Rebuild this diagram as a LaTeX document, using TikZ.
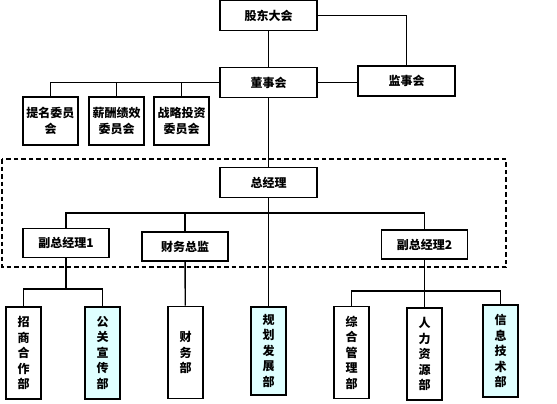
\documentclass[tikz,border=0pt]{standalone}
\usepackage{fontspec}
\setmainfont{Noto Sans CJK SC}
\usepackage{tikz,color}
\definecolor{paleblue}{HTML}{DFFFFF}

\begin{document}
\begin{tikzpicture}[x=1pt, y=-1pt,
  box/.style={draw, line width=1.6pt, fill=white, inner sep=0pt, align=center,
    font=\fontsize{12}{15.5}\selectfont\bfseries},
  wide/.style={box, minimum width=97pt, minimum height=30pt},
  mid/.style={box, minimum width=86pt, minimum height=29pt},
  comm/.style={box, minimum width=55pt, minimum height=48pt},
  dept/.style={box, minimum width=35pt, minimum height=92pt},
  link/.style={line width=1.4pt}]

\useasboundingbox (0,0) rectangle (557,404);

\draw [line width=1.6pt, dash pattern=on 4.5pt off 3pt] (2,159) rectangle (506,267);

\node (gd) at (268.5,15.5) [wide] {股东大会};
\node (ds) at (268.5,82.5) [wide] {董事会};
\node (js) at (406.5,81) [wide] {监事会};

\node (tm) at (50.5,121) [comm] {提名委员\\会};
\node (xc) at (116.5,121) [comm] {薪酬绩效\\委员会};
\node (zl) at (181.5,121) [comm] {战略投资\\委员会};

\node (zjl) at (268.5,182.5) [wide] {总经理};
\node (fz1) at (66,243) [mid] {副总经理1};
\node (cw) at (185,246.5) [mid] {财务总监};
\node (fz2) at (424.5,244.5) [mid] {副总经理2};

\node (zs) at (23.5,353) [dept] {招\\商\\合\\作\\部};
\node (gg) at (102.5,353) [dept, fill=paleblue] {公\\关\\宣\\传\\部};
\node (cwb) at (185.5,352.5) [dept] {财\\务\\部};
\node (gh) at (268.5,351) [dept, minimum height=88pt, fill=paleblue] {规\\划\\发\\展\\部};
\node (zh) at (351.5,352.5) [dept] {综\\合\\管\\理\\部};
\node (rl) at (424.5,354) [dept] {人\\力\\资\\源\\部};
\node (xx) at (500.5,351) [dept, fill=paleblue] {信\\息\\技\\术\\部};

\coordinate (zbar) at (268.5,213);
\coordinate (fb1) at (66,289);
\coordinate (fb2) at (424.5,291);

\draw [link] (gd) -- (ds);
\draw [link] (gd.east) -| (js.north);
\draw [link] (ds.east) -- (ds.east -| js.west);
\draw [link] (ds.west) -| (tm.north);
\draw [link] (xc.north) -- (xc.north |- ds.west);
\draw [link] (zl.north) -- (zl.north |- ds.west);
\draw [link] (ds) -- (zjl);
\draw [link] (zjl) -- (gh);
\draw [link] (fz1.north) |- (zbar) -| (fz2.north);
\draw [link] (cw.north) -- (cw.north |- zbar);
\draw [link] (fz1) -- (fb1);
\draw [link] (zs.north) |- (fb1) -| (gg.north);
\draw [link] (cw) -- (cwb);
\draw [link] (fz2) -- (rl);
\draw [link] (zh.north) |- (fb2) -| (xx.north);

\end{tikzpicture}
\end{document}
